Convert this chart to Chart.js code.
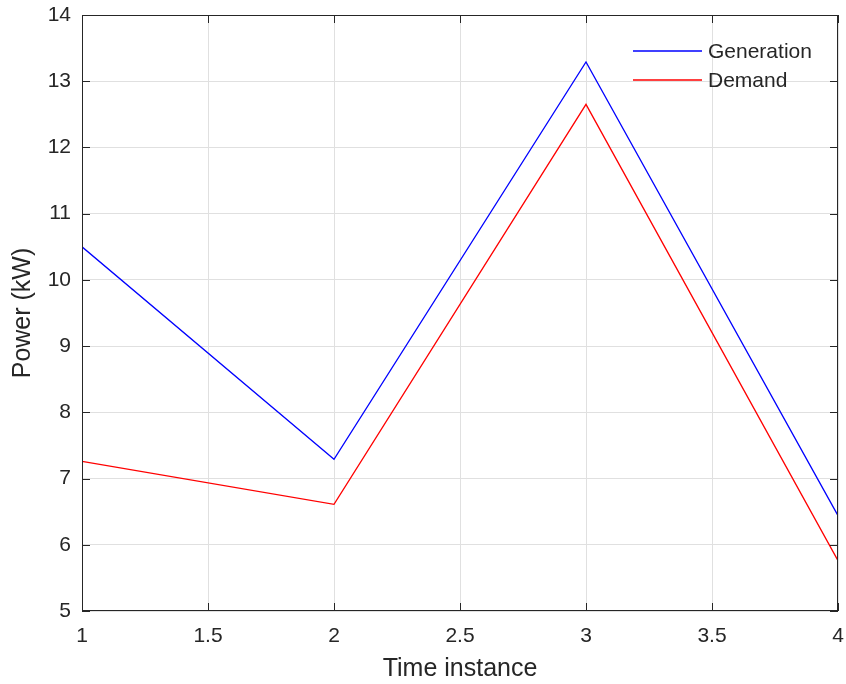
<!DOCTYPE html>
<html>
<head>
<meta charset="utf-8">
<script src="https://cdn.jsdelivr.net/npm/chart.js@4/dist/chart.umd.min.js"></script>
<style>
  html, body { margin: 0; padding: 0; background: #fff; }
  #wrap { width: 846px; height: 684px; }
</style>
</head>
<body>
<div id="wrap"><canvas id="powerChart" width="846" height="684"></canvas></div>
<script>
const timeInstances = [1, 2, 3, 4];
const generation = [10.50, 7.29, 13.29, 6.44];
const demand = [7.26, 6.61, 12.65, 5.76];
const seriesLabels = ["Generation", "Demand"];
const seriesColors = ["#0000ff", "#ff0000"];

const textColor = "#262626";
const fontFamily = "'Liberation Sans', Arial, Helvetica, sans-serif";

// MATLAB-style box, inward ticks and in-plot legend
const boxPlugin = {
  id: "box",
  afterDraw(chart) {
    const { ctx, chartArea: a, scales } = chart;
    ctx.save();
    ctx.strokeStyle = textColor;
    ctx.lineWidth = 1;
    ctx.strokeRect(a.left + 0.5, a.top + 0.5, a.right - a.left - 1, a.bottom - a.top - 1);

    const len = 8;
    ctx.beginPath();
    scales.x.ticks.forEach(t => {
      const px = Math.round(scales.x.getPixelForValue(t.value)) + 0.5;
      ctx.moveTo(px, a.bottom); ctx.lineTo(px, a.bottom - len);
      ctx.moveTo(px, a.top); ctx.lineTo(px, a.top + len);
    });
    scales.y.ticks.forEach(t => {
      const py = Math.round(scales.y.getPixelForValue(t.value)) + 0.5;
      ctx.moveTo(a.left, py); ctx.lineTo(a.left + len, py);
      ctx.moveTo(a.right, py); ctx.lineTo(a.right - len, py);
    });
    ctx.stroke();

    // legend
    ctx.font = "21px " + fontFamily;
    ctx.textBaseline = "middle";
    seriesLabels.forEach((label, i) => {
      const y = Math.round(51 + i * 28.5);
      ctx.beginPath();
      ctx.strokeStyle = seriesColors[i];
      ctx.lineWidth = 1.5;
      ctx.moveTo(633, y);
      ctx.lineTo(702, y);
      ctx.stroke();
      ctx.fillStyle = textColor;
      ctx.fillText(label, 708, y + 1);
    });
    ctx.restore();
  }
};

new Chart(document.getElementById("powerChart"), {
  type: "line",
  data: {
    datasets: [
      {
        label: seriesLabels[0],
        data: timeInstances.map((x, i) => ({ x, y: generation[i] })),
        borderColor: seriesColors[0],
        borderWidth: 1.3,
        pointRadius: 0,
        tension: 0
      },
      {
        label: seriesLabels[1],
        data: timeInstances.map((x, i) => ({ x, y: demand[i] })),
        borderColor: seriesColors[1],
        borderWidth: 1.3,
        pointRadius: 0,
        tension: 0
      }
    ]
  },
  options: {
    responsive: false,
    animation: false,
    layout: { padding: { left: 0, right: 8, top: 15, bottom: 0 } },
    plugins: { legend: { display: false }, tooltip: { enabled: false } },
    scales: {
      x: {
        type: "linear",
        min: 1,
        max: 4,
        ticks: {
          stepSize: 0.5,
          color: textColor,
          font: { size: 21, family: fontFamily },
          padding: 13,
          maxRotation: 0,
          callback: v => String(v)
        },
        grid: { color: "#e0e0e0", drawTicks: false },
        border: { display: false },
        title: {
          display: true,
          text: "Time instance",
          color: textColor,
          font: { size: 25, family: fontFamily },
          padding: { top: 4, bottom: 0 }
        },
        afterFit(scale) { scale.height = 73; scale.paddingLeft = 0; scale.paddingRight = 0; }
      },
      y: {
        min: 5,
        max: 14,
        ticks: {
          stepSize: 1,
          color: textColor,
          font: { size: 21, family: fontFamily },
          padding: 11
        },
        grid: { color: "#e0e0e0", drawTicks: false },
        border: { display: false },
        title: {
          display: true,
          text: "Power (kW)",
          color: textColor,
          font: { size: 25, family: fontFamily },
          padding: { top: 8, bottom: 4 }
        },
        afterFit(scale) { scale.width = 82; scale.paddingTop = 0; scale.paddingBottom = 0; }
      }
    }
  },
  plugins: [boxPlugin]
});
</script>
</body>
</html>
